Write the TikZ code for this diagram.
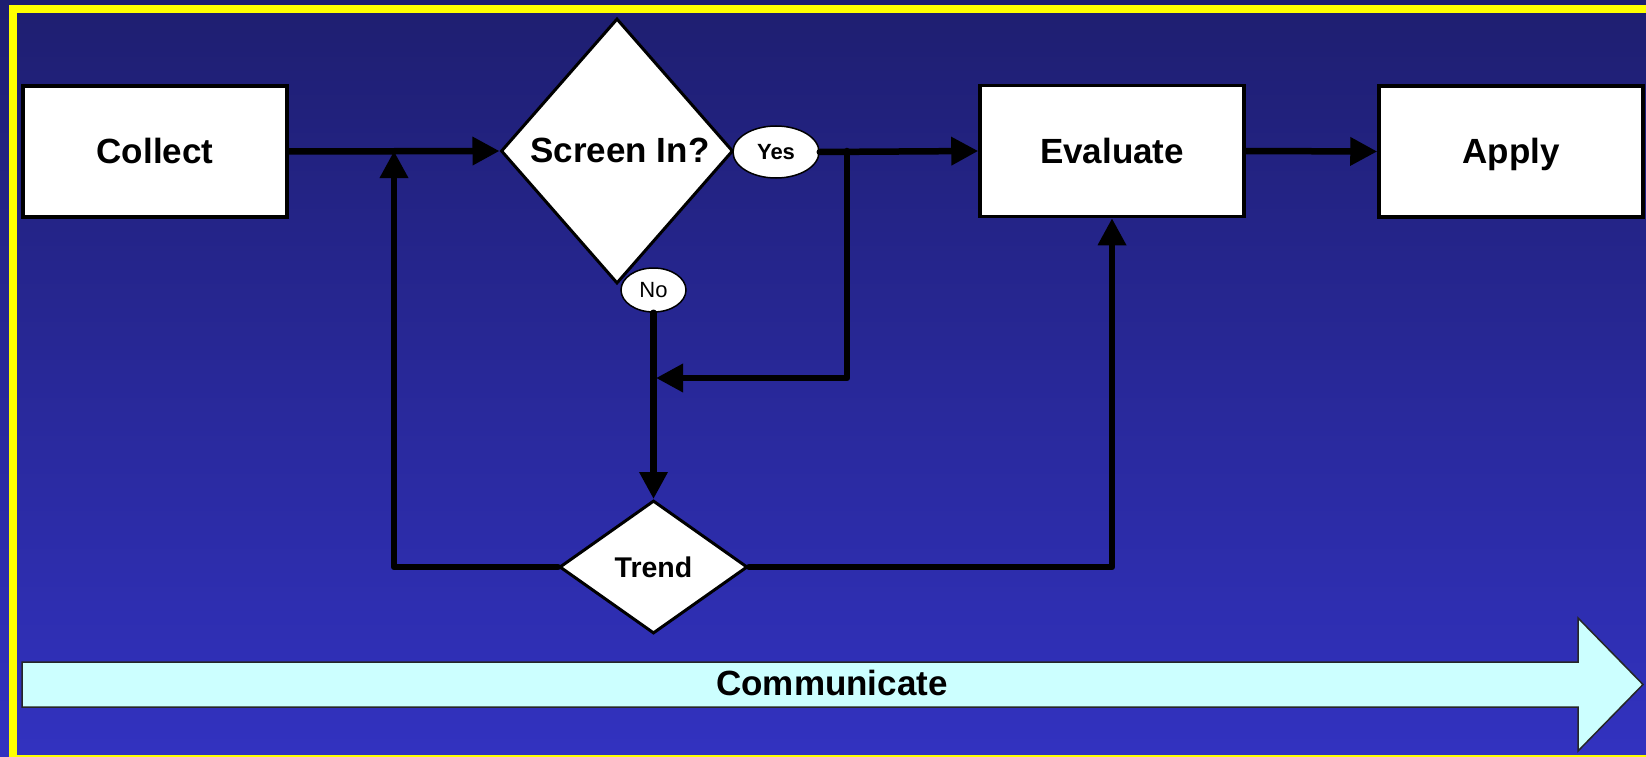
\documentclass[tikz,border=0pt]{standalone}
\usepackage{fontspec}
\setmainfont{Liberation Sans}
\usetikzlibrary{shapes.geometric,arrows.meta}

\definecolor{bgtop}{RGB}{30,30,112}
\definecolor{bgbot}{RGB}{50,50,192}
\definecolor{framey}{RGB}{255,255,0}
\definecolor{commfill}{RGB}{204,255,255}

\begin{document}
\begin{tikzpicture}[x=1pt,y=-1pt,
  boxnode/.style={draw=black, fill=white, line width=3.5pt,
    minimum width=264pt, minimum height=131pt, inner sep=0pt,
    text height=25pt, text depth=0pt,
    font=\fontsize{35}{40}\selectfont\bfseries},
  decision/.style={diamond, draw=black, fill=white, line width=3pt, inner sep=0pt},
  answer/.style={ellipse, draw=black, fill=white, line width=1.5pt, inner sep=0pt},
  flow/.style={line width=6.5pt, line cap=round, line join=round,
    -{Triangle[length=27pt,width=27pt]}},
]
\useasboundingbox (0,0) rectangle (1646,757);
\clip (0,0) rectangle (1646,757);

% background and frame
\fill[top color=bgtop, bottom color=bgbot] (0,0) rectangle (1646,757);
\draw[framey, line width=8pt] (13,9) rectangle (1654,759);

% communicate band
\draw[fill=commfill, draw=black!85, line width=1.5pt]
  (22,662) -- (1578,662) -- (1578,618) -- (1643,684.5) -- (1578,751)
  -- (1578,707) -- (22,707) -- cycle;
\node[font=\fontsize{35}{40}\selectfont\bfseries] (comm) at (832,683) {Communicate};

% process boxes
\node[boxnode] (collect) at (155,151.5) {Collect};
\node[boxnode] (evaluate) at (1112,151) {Evaluate};
\node[boxnode] (apply) at (1511,151.5) {Apply};

% decisions
\node[decision, minimum width=232pt, minimum height=265pt] (screen) at (617,151) {};
\node[font=\fontsize{35}{40}\selectfont\bfseries, text height=25pt, text depth=0pt]
  (screentext) at (620,150) {Screen In?};
\node[decision, minimum width=188pt, minimum height=133pt,
  font=\fontsize{28.5}{32}\selectfont\bfseries] (trend) at (653.5,567) {Trend};

% answers
\node[answer, minimum width=86pt, minimum height=52pt,
  font=\fontsize{22}{26}\selectfont\bfseries] (yes) at (776,152) {Yes};
\node[answer, minimum width=65pt, minimum height=44pt,
  font=\fontsize{22}{26}\selectfont] (no) at (653.5,290) {No};

% junction points
\coordinate (j1) at (394,151);
\coordinate (j2) at (847,151);
\coordinate (j3) at (656,378);

% connectors
\draw[flow] (collect.east) -- (screen.west);
\draw[flow] (trend.west) -| (j1);
\draw[flow] (yes.east) -- (evaluate.west);
\draw[flow] (j2) |- (j3);
\draw[flow] (no.south) -- (trend.north);
\draw[flow] (trend.east) -| (evaluate.south);
\draw[flow] (evaluate.east) -- (apply.west);
\end{tikzpicture}
\end{document}
